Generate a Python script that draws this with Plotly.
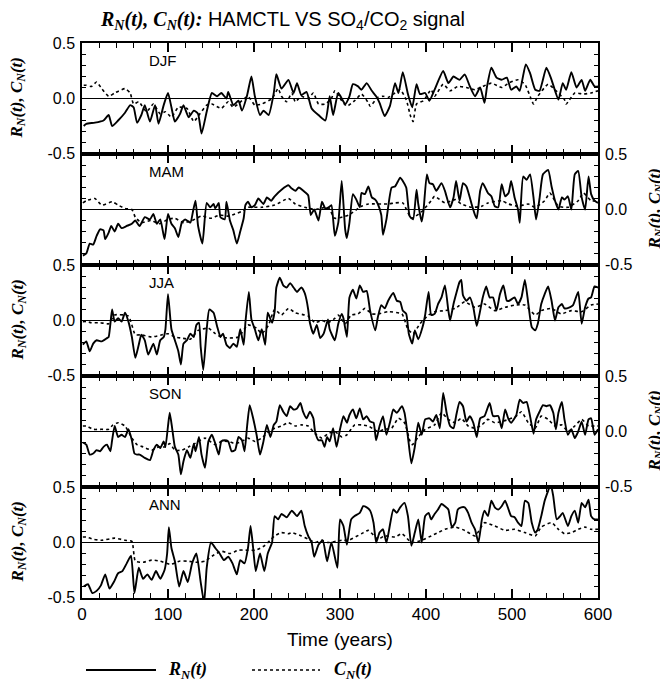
import plotly.graph_objects as go
from plotly.subplots import make_subplots

SEASONS = ["DJF", "MAM", "JJA", "SON", "ANN"]
X_TICKS = [0, 100, 200, 300, 400, 500, 600]
Y_TICKS = [-0.5, 0.0, 0.5]
Y_TICK_TEXT = ["-0.5", "0.0", "0.5"]

# (year, value) pairs
DJF_R = [(2, -0.25), (5, -0.23), (15, -0.22), (25, -0.20), (31, -0.15), (35, -0.25), (42, -0.20), (50, -0.13),
         (56, -0.06), (60, -0.08), (64, -0.22), (69, -0.15), (73, -0.06), (79, -0.21), (85, -0.06), (89, -0.23),
         (95, -0.06), (100, 0.05), (104, -0.08), (108, -0.21), (114, -0.14), (118, -0.06), (124, -0.17),
         (130, -0.11), (135, -0.14), (139, -0.32), (145, -0.12), (151, 0.05), (157, 0.02), (162, 0.05),
         (168, 0.0), (170, 0.06), (176, -0.06), (182, -0.02), (186, -0.11), (192, 0.03), (197, 0.20),
         (201, 0.02), (207, -0.15), (211, -0.11), (217, -0.15), (223, 0.05), (226, 0.22), (232, 0.09),
         (240, 0.17), (246, 0.05), (250, 0.14), (255, 0.03), (261, 0.06), (267, -0.09), (275, -0.15),
         (283, -0.20), (288, 0.02), (292, -0.15), (298, 0.05), (306, -0.05), (311, 0.02), (315, 0.13),
         (321, 0.11), (325, 0.08), (331, 0.14), (337, 0.07), (342, 0.02), (346, -0.04), (352, -0.16),
         (358, -0.07), (364, 0.14), (368, 0.05), (373, 0.24), (379, 0.04), (384, -0.08), (389, 0.13),
         (393, 0.04), (399, 0.05), (404, -0.02), (410, 0.08), (420, 0.25), (426, 0.14), (432, 0.20),
         (439, 0.17), (445, 0.22), (451, 0.11), (457, 0.02), (463, 0.10), (468, -0.04), (471, 0.11),
         (476, 0.28), (482, 0.19), (488, 0.17), (494, 0.19), (499, 0.08), (505, 0.11), (509, 0.07),
         (516, 0.31), (521, 0.23), (527, 0.08), (532, 0.07), (540, 0.28), (546, 0.17), (554, -0.01),
         (559, 0.14), (563, 0.08), (569, 0.24), (575, 0.10), (581, 0.17), (585, 0.07), (591, 0.17),
         (596, 0.11), (600, 0.11)]
DJF_C = [(2, 0.12), (5, 0.12), (11, 0.11), (17, 0.15), (23, 0.09), (31, 0.02), (38, 0.05), (50, 0.09),
         (56, 0.05), (60, -0.05), (66, -0.03), (75, -0.12), (83, -0.05), (91, -0.14), (97, -0.12),
         (104, -0.17), (112, -0.08), (122, -0.09), (130, -0.21), (137, -0.14), (145, -0.06), (151, -0.05),
         (162, -0.09), (170, -0.03), (176, -0.08), (186, -0.02), (193, 0.02), (201, -0.06), (209, -0.05),
         (221, 0.0), (228, 0.09), (232, 0.02), (238, -0.03), (244, 0.05), (248, -0.03), (255, 0.02),
         (263, 0.0), (269, 0.05), (275, -0.05), (283, -0.05), (290, 0.0), (294, 0.07), (302, -0.02),
         (308, -0.07), (317, -0.02), (325, 0.04), (333, -0.04), (335, -0.07), (344, 0.01), (350, 0.02),
         (356, 0.01), (362, 0.04), (370, 0.08), (377, -0.01), (382, -0.16), (385, -0.21), (389, -0.05),
         (397, -0.02), (406, 0.08), (410, 0.02), (420, 0.13), (428, 0.07), (437, 0.11), (447, 0.10),
         (457, 0.08), (466, 0.11), (476, 0.14), (488, 0.10), (496, 0.14), (507, 0.17), (515, 0.13),
         (523, -0.02), (525, -0.05), (530, 0.02), (542, 0.13), (550, 0.08), (561, -0.01), (563, -0.05),
         (573, 0.05), (583, 0.04), (592, 0.05), (600, 0.07)]

MAM_R = [(1, -0.42), (5, -0.40), (9, -0.31), (13, -0.32), (17, -0.24), (21, -0.18), (25, -0.19), (27, -0.27),
         (31, -0.21), (34, -0.15), (38, -0.20), (42, -0.13), (46, -0.17), (52, -0.15), (58, -0.13),
         (62, -0.10), (67, -0.15), (73, -0.07), (79, -0.09), (83, -0.04), (87, -0.13), (91, -0.09),
         (96, -0.27), (100, -0.04), (104, -0.13), (108, -0.17), (112, -0.25), (116, -0.12), (120, -0.09),
         (126, -0.12), (129, -0.02), (132, 0.08), (135, -0.15), (140, -0.31), (145, 0.06), (149, 0.02),
         (153, 0.05), (155, 0.01), (159, 0.06), (161, -0.07), (166, -0.09), (168, 0.07), (172, -0.10),
         (176, -0.19), (180, -0.31), (184, -0.20), (188, -0.08), (190, 0.04), (193, 0.07), (197, 0.02),
         (201, 0.04), (205, 0.10), (211, 0.05), (215, 0.11), (220, 0.08), (224, 0.12), (232, 0.18),
         (240, 0.22), (244, 0.19), (248, 0.17), (252, 0.20), (259, 0.16), (263, 0.13), (266, -0.05),
         (270, 0.0), (275, -0.10), (279, 0.07), (283, 0.01), (287, 0.02), (290, 0.04), (294, -0.24),
         (298, -0.12), (302, 0.26), (306, -0.18), (308, -0.26), (311, -0.12), (315, 0.14), (319, 0.09),
         (323, 0.02), (325, 0.15), (329, 0.14), (333, 0.21), (337, 0.11), (341, 0.09), (344, 0.05),
         (348, -0.05), (350, -0.23), (354, -0.09), (360, 0.20), (364, 0.21), (370, 0.29), (373, 0.26),
         (377, 0.20), (381, -0.06), (385, -0.09), (389, 0.18), (391, 0.05), (395, -0.11), (397, -0.02),
         (401, 0.32), (404, 0.24), (408, 0.23), (412, 0.17), (418, 0.24), (422, 0.17), (428, 0.02),
         (432, 0.11), (435, 0.26), (439, 0.08), (443, 0.24), (447, 0.21), (453, 0.05), (457, -0.05),
         (459, -0.08), (463, 0.17), (466, 0.24), (472, 0.15), (476, 0.12), (480, 0.03), (484, 0.02),
         (488, 0.23), (492, 0.12), (496, 0.15), (499, 0.26), (503, 0.11), (507, 0.0), (509, -0.12),
         (513, 0.30), (517, 0.27), (521, 0.32), (525, 0.11), (528, -0.09), (532, 0.10), (536, 0.32),
         (542, 0.36), (546, 0.21), (550, 0.08), (554, 0.0), (558, 0.11), (561, 0.09), (565, 0.12),
         (569, 0.0), (573, 0.32), (577, 0.35), (581, 0.11), (585, 0.0), (589, 0.30), (592, 0.14),
         (596, 0.08), (600, 0.06)]
MAM_C = [(1, 0.06), (5, 0.08), (15, 0.10), (23, 0.04), (35, 0.07), (42, 0.04), (50, 0.01), (58, 0.0),
         (62, -0.07), (69, -0.12), (80, -0.10), (90, -0.13), (100, -0.09), (108, -0.08), (118, -0.12),
         (128, -0.10), (139, -0.06), (150, -0.08), (160, -0.05), (170, -0.06), (178, -0.04), (185, -0.02),
         (193, 0.02), (209, 0.02), (224, 0.04), (240, 0.10), (248, 0.05), (259, 0.02), (271, 0.0),
         (286, 0.02), (294, -0.08), (310, -0.05), (325, 0.03), (333, 0.05), (356, 0.05), (364, 0.06),
         (373, 0.06), (383, -0.08), (395, -0.02), (406, 0.08), (410, 0.12), (422, 0.06), (434, 0.09),
         (441, 0.05), (453, 0.02), (465, 0.03), (472, 0.06), (488, 0.08), (496, 0.05), (507, 0.03),
         (519, 0.05), (527, 0.02), (538, 0.08), (544, 0.15), (554, 0.03), (565, 0.02), (577, 0.08),
         (583, 0.15), (592, 0.08), (600, 0.08)]

JJA_R = [(1, -0.22), (5, -0.19), (9, -0.28), (13, -0.21), (17, -0.18), (23, -0.19), (29, -0.16), (31, -0.15),
         (35, 0.10), (38, -0.01), (42, 0.02), (46, -0.01), (50, 0.07), (54, -0.01), (58, -0.15), (62, -0.34),
         (66, -0.22), (69, -0.13), (73, -0.18), (77, -0.31), (83, -0.21), (87, -0.31), (91, -0.18),
         (95, -0.15), (97, -0.08), (100, 0.24), (104, -0.08), (108, -0.18), (112, -0.28), (115, -0.40),
         (118, -0.21), (122, -0.18), (126, -0.12), (130, -0.15), (133, -0.04), (136, -0.02), (138, -0.24),
         (141, -0.45), (145, -0.08), (148, 0.10), (153, 0.07), (157, -0.05), (161, -0.15), (164, -0.12),
         (168, -0.22), (172, -0.25), (176, -0.21), (180, -0.24), (184, -0.08), (188, -0.22), (190, -0.02),
         (194, 0.26), (197, 0.01), (201, -0.08), (205, -0.18), (209, -0.08), (213, -0.22), (216, 0.07),
         (221, -0.02), (224, 0.08), (226, 0.30), (230, 0.39), (234, 0.32), (238, 0.30), (242, 0.34),
         (246, 0.30), (250, 0.26), (255, 0.30), (259, 0.25), (261, 0.19), (263, 0.10), (265, -0.02),
         (269, -0.12), (273, -0.04), (277, -0.16), (281, -0.12), (286, 0.01), (288, -0.08), (294, -0.18),
         (298, -0.03), (302, 0.06), (304, 0.02), (308, -0.15), (311, 0.21), (315, 0.28), (319, 0.20),
         (323, 0.32), (327, 0.26), (331, 0.27), (335, 0.09), (341, -0.09), (344, 0.03), (348, 0.14),
         (352, 0.11), (356, 0.18), (362, 0.25), (366, 0.18), (370, 0.17), (373, 0.09), (377, 0.06),
         (380, -0.12), (384, -0.21), (387, -0.09), (391, -0.17), (396, -0.06), (399, 0.05), (403, 0.26),
         (406, 0.05), (410, 0.06), (414, 0.15), (418, 0.21), (422, 0.32), (426, 0.09), (428, 0.0),
         (432, 0.15), (435, 0.24), (439, 0.35), (441, 0.37), (443, 0.23), (447, 0.18), (451, 0.21),
         (455, 0.12), (459, -0.05), (463, 0.09), (466, 0.21), (470, 0.31), (474, 0.21), (478, 0.21),
         (482, 0.09), (486, 0.24), (490, 0.32), (494, 0.18), (497, 0.18), (503, 0.21), (507, 0.15),
         (511, 0.21), (515, 0.37), (519, 0.15), (523, -0.06), (527, -0.09), (530, -0.03), (534, 0.15),
         (538, 0.24), (542, 0.31), (546, 0.18), (550, 0.0), (554, 0.12), (558, 0.15), (561, 0.11),
         (567, 0.12), (571, 0.14), (577, 0.26), (581, -0.03), (585, 0.12), (589, 0.20), (592, 0.21),
         (596, 0.31), (600, 0.30)]
JJA_C = [(1, -0.01), (5, -0.01), (11, -0.02), (21, -0.02), (31, -0.03), (38, 0.05), (54, 0.04), (62, -0.13),
         (69, -0.13), (81, -0.15), (93, -0.13), (100, -0.12), (108, -0.15), (116, -0.16), (126, -0.17),
         (135, -0.09), (147, -0.07), (155, -0.12), (162, -0.15), (170, -0.16), (182, -0.15), (193, -0.04),
         (203, -0.07), (209, -0.12), (217, -0.04), (224, 0.10), (232, 0.05), (240, 0.11), (248, 0.07),
         (259, 0.05), (263, 0.04), (271, -0.02), (279, 0.0), (286, -0.02), (294, 0.02), (298, 0.05),
         (306, -0.03), (313, 0.05), (321, 0.06), (329, 0.11), (337, 0.06), (344, 0.06), (356, 0.08),
         (372, 0.06), (379, -0.08), (385, -0.12), (393, -0.03), (403, 0.05), (410, 0.08), (422, 0.09),
         (434, 0.11), (445, 0.17), (457, 0.12), (468, 0.15), (480, 0.09), (492, 0.12), (503, 0.14),
         (515, 0.14), (527, 0.05), (534, 0.09), (546, 0.11), (557, 0.06), (569, 0.09), (581, 0.08),
         (592, 0.14), (600, 0.15)]

SON_R = [(1, -0.10), (5, -0.12), (9, -0.21), (13, -0.20), (17, -0.17), (21, -0.18), (25, -0.14), (29, -0.12),
         (33, -0.18), (35, -0.08), (38, 0.05), (42, -0.05), (46, -0.03), (50, -0.05), (54, 0.02), (58, -0.08),
         (61, -0.20), (64, -0.21), (67, -0.21), (73, -0.24), (79, -0.26), (83, -0.17), (87, -0.12),
         (91, -0.15), (95, -0.09), (97, -0.14), (100, 0.05), (102, 0.17), (105, 0.02), (108, -0.14),
         (112, -0.21), (115, -0.39), (118, -0.27), (122, -0.17), (126, -0.24), (130, -0.11), (132, -0.18),
         (136, -0.05), (139, -0.21), (143, -0.33), (147, -0.09), (151, -0.03), (155, -0.11), (159, -0.21),
         (162, -0.09), (166, -0.08), (170, -0.09), (174, -0.18), (178, -0.17), (182, -0.05), (186, -0.08),
         (189, -0.18), (192, 0.05), (195, 0.24), (199, 0.12), (203, -0.03), (207, -0.21), (211, -0.09),
         (215, 0.06), (219, -0.05), (223, 0.06), (226, 0.09), (230, 0.24), (234, 0.18), (238, 0.14),
         (242, 0.23), (246, 0.20), (250, 0.21), (254, 0.26), (257, 0.18), (261, 0.12), (265, 0.18),
         (269, 0.12), (271, 0.0), (275, -0.08), (279, -0.08), (282, -0.14), (285, -0.05), (288, -0.09),
         (292, 0.03), (296, -0.14), (300, 0.02), (304, 0.14), (308, 0.08), (311, 0.15), (315, 0.20),
         (319, 0.12), (323, 0.21), (327, 0.11), (331, 0.14), (335, 0.09), (339, 0.08), (342, -0.08),
         (346, 0.05), (350, 0.14), (354, -0.03), (358, 0.08), (362, 0.20), (366, 0.17), (372, 0.23),
         (375, 0.17), (379, -0.05), (383, -0.29), (387, -0.14), (391, 0.08), (395, -0.03), (399, 0.11),
         (404, 0.12), (408, 0.09), (412, 0.15), (416, 0.03), (420, 0.35), (424, 0.17), (428, 0.05),
         (432, 0.03), (435, 0.14), (439, 0.27), (443, 0.23), (447, 0.09), (451, 0.14), (455, 0.08),
         (459, -0.05), (463, 0.12), (468, 0.14), (474, 0.26), (478, 0.14), (484, 0.14), (488, 0.03),
         (492, 0.20), (496, 0.11), (499, 0.08), (505, 0.15), (509, 0.29), (513, 0.26), (517, 0.27),
         (521, 0.14), (525, -0.02), (528, 0.11), (532, 0.18), (536, 0.24), (540, 0.23), (544, 0.24),
         (548, 0.17), (551, 0.02), (554, 0.17), (558, 0.27), (561, 0.11), (565, -0.03), (569, 0.02),
         (573, -0.06), (577, 0.0), (581, 0.09), (585, -0.03), (589, 0.11), (592, 0.12), (596, -0.03),
         (600, 0.02)]
SON_C = [(1, 0.05), (5, 0.05), (13, 0.02), (23, 0.02), (31, 0.02), (36, 0.06), (42, 0.08), (50, 0.05),
         (58, -0.06), (64, -0.12), (71, -0.14), (81, -0.17), (89, -0.14), (97, -0.14), (102, -0.11),
         (108, -0.17), (116, -0.17), (124, -0.14), (131, -0.11), (143, -0.06), (155, -0.12), (162, -0.09),
         (170, -0.09), (178, -0.11), (186, -0.09), (193, -0.06), (201, -0.09), (209, -0.06), (217, 0.0),
         (224, 0.03), (232, 0.05), (240, 0.08), (248, 0.05), (255, 0.06), (263, 0.05), (271, -0.02),
         (279, -0.06), (286, -0.02), (294, 0.0), (302, -0.05), (308, -0.03), (317, 0.06), (325, 0.06),
         (333, 0.05), (344, 0.0), (352, 0.02), (360, 0.03), (368, 0.12), (375, 0.08), (381, -0.08),
         (384, -0.12), (391, -0.05), (399, 0.02), (410, 0.06), (418, 0.17), (426, 0.11), (434, 0.08),
         (441, 0.12), (449, 0.05), (457, 0.03), (465, 0.06), (472, 0.11), (480, 0.08), (488, 0.09),
         (496, 0.11), (505, 0.14), (511, 0.18), (519, 0.08), (527, 0.03), (534, 0.14), (542, 0.11),
         (550, 0.05), (558, 0.06), (565, 0.0), (573, 0.05), (581, 0.11), (589, 0.05), (596, 0.05),
         (600, 0.05)]

ANN_R = [(2, -0.40), (7, -0.38), (12, -0.46), (17, -0.44), (22, -0.39), (27, -0.29), (32, -0.42), (37, -0.36),
         (42, -0.28), (47, -0.26), (52, -0.19), (57, -0.12), (61, -0.46), (66, -0.23), (71, -0.33),
         (76, -0.29), (81, -0.34), (86, -0.26), (91, -0.33), (96, -0.25), (99, -0.10), (101, 0.14),
         (104, -0.05), (108, -0.17), (113, -0.40), (118, -0.26), (123, -0.36), (128, -0.19), (133, -0.10),
         (138, -0.36), (142, -0.55), (145, -0.23), (150, 0.0), (155, -0.05), (160, -0.10), (165, -0.16),
         (170, -0.13), (175, -0.19), (180, -0.29), (184, -0.16), (189, -0.19), (193, -0.05), (196, 0.15),
         (199, -0.05), (202, -0.26), (207, -0.10), (212, -0.26), (216, -0.10), (221, 0.0), (224, 0.24),
         (228, 0.21), (232, 0.26), (238, 0.23), (244, 0.29), (250, 0.24), (255, 0.29), (259, 0.15),
         (263, 0.06), (267, 0.0), (270, -0.13), (275, -0.02), (280, 0.02), (285, -0.17), (290, 0.0),
         (297, -0.23), (300, 0.21), (304, 0.15), (308, -0.02), (313, 0.21), (317, 0.24), (323, 0.27),
         (327, 0.33), (331, 0.32), (335, 0.29), (339, 0.18), (342, 0.0), (346, 0.09), (350, 0.12),
         (354, 0.0), (362, 0.30), (366, 0.27), (370, 0.32), (375, 0.36), (379, 0.24), (383, -0.03),
         (387, 0.09), (391, 0.21), (395, 0.0), (399, 0.24), (403, 0.27), (406, 0.21), (410, 0.26),
         (414, 0.30), (418, 0.35), (422, 0.33), (426, 0.30), (430, 0.14), (434, 0.18), (437, 0.30),
         (441, 0.32), (445, 0.32), (449, 0.27), (453, 0.18), (457, 0.12), (461, 0.0), (465, 0.21),
         (468, 0.29), (472, 0.24), (476, 0.38), (480, 0.32), (484, 0.30), (488, 0.33), (492, 0.38),
         (496, 0.30), (499, 0.24), (503, 0.23), (507, 0.18), (511, 0.15), (515, 0.38), (519, 0.36),
         (523, 0.18), (527, 0.09), (530, 0.12), (534, 0.24), (538, 0.38), (542, 0.47), (545, 0.53),
         (548, 0.42), (552, 0.21), (556, 0.24), (559, 0.27), (565, 0.15), (569, 0.24), (573, 0.29),
         (577, 0.18), (581, 0.36), (585, 0.32), (589, 0.39), (592, 0.24), (596, 0.21), (600, 0.21)]
ANN_C = [(1, 0.05), (5, 0.05), (13, 0.03), (23, 0.02), (38, 0.04), (50, 0.02), (58, 0.01), (62, -0.17),
         (71, -0.18), (81, -0.16), (91, -0.17), (103, -0.20), (113, -0.17), (123, -0.17), (133, -0.18),
         (143, -0.17), (152, -0.12), (162, -0.08), (172, -0.10), (182, -0.07), (192, -0.07), (202, -0.07),
         (212, -0.03), (220, 0.03), (224, 0.06), (232, 0.09), (240, 0.08), (244, 0.09), (255, 0.06),
         (263, 0.03), (271, 0.0), (279, 0.02), (286, 0.0), (302, 0.02), (310, 0.02), (325, 0.08),
         (333, 0.11), (344, 0.03), (352, 0.06), (364, 0.05), (372, 0.08), (383, 0.0), (395, 0.02),
         (406, 0.06), (414, 0.09), (422, 0.12), (434, 0.14), (445, 0.11), (457, 0.06), (468, 0.18),
         (480, 0.15), (492, 0.11), (503, 0.12), (515, 0.09), (527, 0.06), (534, 0.14), (546, 0.18),
         (554, 0.12), (561, 0.08), (569, 0.09), (577, 0.12), (585, 0.14), (592, 0.12), (600, 0.12)]

SERIES = [(DJF_R, DJF_C), (MAM_R, MAM_C), (JJA_R, JJA_C), (SON_R, SON_C), (ANN_R, ANN_C)]

# The page body adds an 8px offset; the figure is laid out in window pixels minus that offset.
OFF = 8
W, H = 668 - OFF, 682 - OFF
PLOT_L, PLOT_R, PLOT_T, PLOT_B = 82, 598, 43, 598   # target window pixels
ML, MR = PLOT_L - OFF, W - (PLOT_R - OFF)
MT, MB = PLOT_T - OFF, H - (PLOT_B - OFF)
PW, PH = W - ML - MR, H - MT - MB


def px(xw):
    return (xw - OFF - ML) / PW


def py(yw):
    return (H - MB - (yw - OFF)) / PH


SANS = "Liberation Sans, Arial, sans-serif"
SERIF = "Liberation Serif, Times New Roman, serif"
YLAB = "<b><i>R<sub>N</sub>(t), C<sub>N</sub>(t)</i></b>"

fig = make_subplots(rows=5, cols=1, shared_xaxes=True, vertical_spacing=0)

for i, (R, C) in enumerate(SERIES):
    row = i + 1
    tr, vr = zip(*R)
    tc, vc = zip(*C)
    fig.add_trace(go.Scatter(x=tc, y=vc, mode="lines", showlegend=False,
                             line=dict(color="black", width=1.6, dash="dot", shape="spline", smoothing=0.5)),
                  row=row, col=1)
    fig.add_trace(go.Scatter(x=tr, y=vr, mode="lines", showlegend=False,
                             line=dict(color="black", width=1.9, shape="spline", smoothing=0.5)),
                  row=row, col=1)
    side = "left" if i % 2 == 0 else "right"
    fig.update_yaxes(row=row, col=1, range=[-0.505, 0.505], side=side,
                     tickvals=Y_TICKS, ticktext=Y_TICK_TEXT, ticks="inside", ticklen=6,
                     tickcolor="black", tickwidth=1.2, ticklabelstandoff=2,
                     minor=dict(dtick=0.1, tick0=0, ticks="inside", ticklen=4, tickcolor="black", tickwidth=1),
                     showline=True, linecolor="black", linewidth=1.5, mirror="allticks",
                     showgrid=False, zeroline=True, zerolinecolor="black", zerolinewidth=1,
                     automargin=False,
                     tickfont=dict(family=SANS, size=16, color="black"))
    fig.update_xaxes(row=row, col=1, range=[0, 600], tickvals=X_TICKS, ticks="inside", ticklen=9,
                     tickcolor="black", tickwidth=1.5,
                     minor=dict(dtick=20, tick0=0, ticks="inside", ticklen=5, tickcolor="black", tickwidth=1.2),
                     showline=True, linecolor="black", linewidth=1.5, mirror="allticks", showgrid=False,
                     zeroline=False, showticklabels=(row == 5), automargin=False,
                     tickfont=dict(family=SANS, size=17, color="black"))
    # season label
    sfx = "" if row == 1 else str(row)
    fig.add_annotation(x=75, y=0.35, xref=f"x{sfx}", yref=f"y{sfx}",
                       text=SEASONS[i], showarrow=False, xanchor="left", yanchor="middle",
                       font=dict(family=SANS, size=15, color="black"))
    # y-axis title
    cy = PLOT_T + (PLOT_B - PLOT_T) / 5 * (i + 0.5)
    fig.add_annotation(x=px(18 if side == "left" else 655), y=py(cy), xref="paper", yref="paper",
                       text=YLAB, textangle=-90, showarrow=False, xanchor="center", yanchor="middle",
                       font=dict(family=SERIF, size=17, color="black"))

# title
fig.add_annotation(x=px(98), y=py(21), xref="paper", yref="paper", showarrow=False,
                   xanchor="left", yanchor="middle",
                   text=f'<span style="font-family:{SERIF}"><b><i>R<sub>N</sub>(t), C<sub>N</sub>(t):</i></b></span>'
                        ' HAMCTL VS SO<sub>4</sub>/CO<sub>2</sub> signal',
                   font=dict(family=SANS, size=20, color="black"))
# x title
fig.add_annotation(x=0.5, y=py(639), xref="paper", yref="paper", showarrow=False,
                   xanchor="center", yanchor="middle",
                   text="Time (years)", font=dict(family=SANS, size=19, color="black"))
# legend
ly = py(670)
fig.add_shape(type="line", xref="paper", yref="paper", x0=px(86), x1=px(156), y0=ly, y1=ly,
              line=dict(color="black", width=1.8))
fig.add_annotation(x=px(166), y=ly, xref="paper", yref="paper", showarrow=False,
                   xanchor="left", yanchor="middle",
                   text="<b><i>R<sub>N</sub>(t)</i></b>", font=dict(family=SERIF, size=18, color="black"))
fig.add_shape(type="line", xref="paper", yref="paper", x0=px(252), x1=px(320), y0=ly, y1=ly,
              line=dict(color="black", width=1.6, dash="dot"))
fig.add_annotation(x=px(332), y=ly, xref="paper", yref="paper", showarrow=False,
                   xanchor="left", yanchor="middle",
                   text="<b><i>C<sub>N</sub>(t)</i></b>", font=dict(family=SERIF, size=18, color="black"))

fig.update_layout(width=W, height=H, margin=dict(l=ML, r=MR, t=MT, b=MB, autoexpand=False),
                  paper_bgcolor="white", plot_bgcolor="white", showlegend=False)

fig.write_html("out.html")
